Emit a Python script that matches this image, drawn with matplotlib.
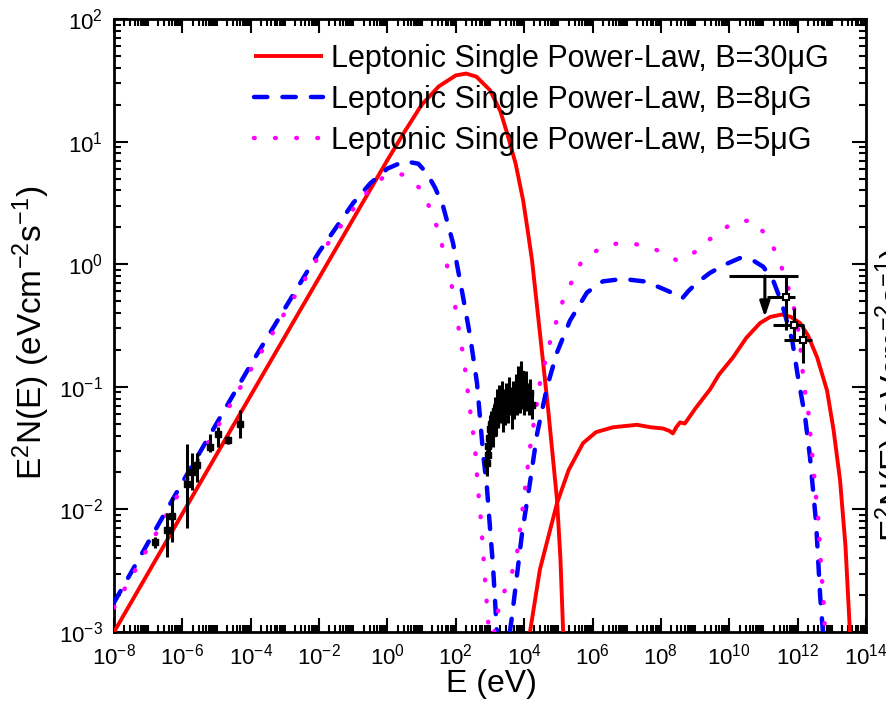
import numpy as np
import matplotlib
matplotlib.use("Agg")
import matplotlib.pyplot as plt
from matplotlib.ticker import FixedLocator, LogLocator, NullFormatter, LogFormatterSciNotation

plt.rcParams['font.family'] = ['Liberation Sans', 'DejaVu Sans']
plt.rcParams['mathtext.fontset'] = 'custom'
plt.rcParams['mathtext.rm'] = 'Liberation Sans'
plt.rcParams['mathtext.it'] = 'Liberation Sans:italic'
plt.rcParams['mathtext.default'] = 'regular'

# ---------------- model curves (log10 E [eV], log10 E^2N(E) [eV cm^-2 s^-1]) ----------------
red_syn_logE = [-8, -4, -1, 0, 0.5, 1.0, 1.5, 2.0, 2.3, 2.6, 3.0, 3.3, 3.5, 3.75, 3.97, 4.1, 4.23,
                4.46, 4.7, 4.96, 5.06, 5.14]
red_syn_logF = [-3.0, -1.07, 0.37, 0.85, 1.08, 1.30, 1.45, 1.54, 1.555, 1.53, 1.42, 1.25, 1.07, 0.82,
                0.52, 0.28, 0.03, -0.56, -1.18, -1.92, -2.4, -3.0]
red_ic_logE = [4.17, 4.46, 4.96, 5.3, 5.72, 6.1, 6.6, 7.3, 7.7, 8.06, 8.25, 8.35, 8.45, 8.56, 8.7, 9.0,
               9.44, 9.7, 10.11, 10.5, 10.9, 11.2, 11.54, 11.8, 12.07, 12.3, 12.57, 12.86, 13.05, 13.24,
               13.4, 13.53]
red_ic_logF = [-3.0, -2.49, -1.95, -1.68, -1.46, -1.37, -1.33, -1.31, -1.33, -1.34, -1.36, -1.38, -1.33,
               -1.29, -1.30, -1.18, -1.02, -0.90, -0.76, -0.60, -0.48, -0.43, -0.41, -0.43, -0.48, -0.58,
               -0.76, -1.03, -1.35, -1.76, -2.3, -3.0]

blue_syn_logE = [-8, -6, -4, -2, -1, -0.5, 0, 0.5, 0.9, 1.16, 1.4, 1.63, 1.92, 2.2, 2.42, 2.62, 2.8,
                 2.91, 3.0, 3.09, 3.2]
blue_syn_logF = [-2.76, -1.78, -0.82, 0.10, 0.50, 0.66, 0.78, 0.84, 0.82, 0.74, 0.62, 0.47, 0.17, -0.25,
                 -0.59, -0.97, -1.55, -1.82, -2.15, -2.47, -3.0]
blue_ic_logE = [3.58, 3.64, 3.94, 4.17, 4.38, 4.67, 4.96, 5.34, 5.84, 6.3, 6.89, 7.5, 7.97, 8.3, 8.62,
                8.8, 9.06, 9.44, 9.9, 10.31, 10.7, 10.99, 11.28, 11.54, 11.84, 12.01, 12.22, 12.36, 12.54,
                12.66, 12.74]
blue_ic_logF = [-3.0, -2.88, -2.19, -1.78, -1.38, -1.0, -0.72, -0.46, -0.23, -0.14, -0.12, -0.14, -0.19,
                -0.23, -0.28, -0.22, -0.15, -0.07, 0.0, 0.05, 0.03, -0.02, -0.13, -0.32, -0.62, -0.92,
                -1.25, -1.57, -2.11, -2.71, -3.0]

mag_syn_logE = [-8, -6, -4, -2, -1, -0.5, -0.16, 0.2, 0.46, 0.95, 1.24, 1.48, 1.65, 1.9, 2.12, 2.24,
                2.39, 2.56, 2.65, 2.71, 2.85, 2.94, 2.98]
mag_syn_logF = [-2.80, -1.82, -0.86, 0.07, 0.45, 0.62, 0.70, 0.74, 0.73, 0.62, 0.46, 0.28, 0.10, -0.2,
                -0.59, -0.78, -1.13, -1.49, -1.84, -2.0, -2.55, -2.90, -3.0]
mag_ic_logE = [3.12, 3.29, 3.5, 3.64, 3.79, 3.94, 4.17, 4.46, 4.76, 5.14, 5.69, 6.28, 6.89, 7.54, 8.12,
               8.47, 8.71, 9.0, 9.29, 9.58, 10.08, 10.69, 11.13, 11.43, 11.63, 11.84, 11.98, 12.07, 12.13,
               12.19, 12.30, 12.36, 12.42, 12.48, 12.54, 12.60, 12.68, 12.77, 12.80]
mag_ic_logF = [-3.0, -2.75, -2.62, -2.52, -2.36, -2.03, -1.50, -0.97, -0.63, -0.29, 0.03, 0.14, 0.18,
               0.15, 0.09, 0.03, 0.05, 0.10, 0.19, 0.22, 0.34, 0.36, 0.22, 0.06, -0.11, -0.29, -0.47,
               -0.64, -0.82, -1.0, -1.17, -1.35, -1.54, -1.71, -1.90, -2.07, -2.44, -2.80, -3.0]

# ---------------- observed data ----------------
radio_E = [1.6e-7, 3.5e-7, 5.0e-7, 1.4e-6, 1.9e-6, 2.7e-6, 6.5e-6, 1.1e-5, 2.2e-5, 4.9e-5]
radio_F = [0.0054, 0.0068, 0.0089, 0.016, 0.020, 0.023, 0.032, 0.041, 0.037, 0.050]
radio_lo = [0.0048, 0.0041, 0.0054, 0.0071, 0.0145, 0.0166, 0.0295, 0.0324, 0.034, 0.038]
radio_hi = [0.0060, 0.0093, 0.0126, 0.034, 0.029, 0.029, 0.041, 0.047, 0.040, 0.065]

xray_E = [8.0e2, 8.5e2, 9.0e2, 9.5e2, 1.0e3, 1.1e3, 1.2e3, 1.3e3, 1.4e3, 1.5e3, 1.6e3, 1.7e3, 1.8e3,
          2.0e3, 2.2e3, 2.4e3, 2.6e3, 2.8e3, 3.0e3, 3.3e3, 3.6e3, 4.0e3, 4.4e3, 4.8e3, 5.2e3, 5.7e3,
          6.2e3, 6.8e3, 7.5e3, 8.2e3, 9.0e3, 1.0e4, 1.1e4, 1.2e4, 1.35e4, 1.5e4, 1.7e4]
xray_F = [0.024, 0.028, 0.033, 0.038, 0.045, 0.050, 0.042, 0.056, 0.063, 0.052, 0.071, 0.060, 0.076,
          0.066, 0.083, 0.056, 0.071, 0.063, 0.079, 0.066, 0.089, 0.076, 0.063, 0.083, 0.071, 0.095,
          0.076, 0.105, 0.079, 0.126, 0.089, 0.076, 0.100, 0.083, 0.076, 0.089, 0.071]
xray_relerr = [0.28, 0.25, 0.25, 0.3, 0.3, 0.28, 0.3, 0.3, 0.32, 0.3, 0.35, 0.3, 0.35, 0.3, 0.35, 0.3,
               0.35, 0.3, 0.35, 0.3, 0.35, 0.3, 0.4, 0.35, 0.3, 0.35, 0.3, 0.4, 0.3, 0.3, 0.35, 0.3,
               0.35, 0.3, 0.3, 0.3, 0.3]

gamma_E = [4.6e11, 7.9e11, 1.45e12]
gamma_F = [0.54, 0.32, 0.24]
gamma_Elo = [1.26e11, 1.9e11, 4.0e11]
gamma_Ehi = [8.3e11, 1.55e12, 2.6e12]
gamma_Flo = [0.29, 0.24, 0.155]
gamma_Fhi = [0.79, 0.44, 0.32]

ul_E = [1.1e11]
ul_F = [0.80]
ul_Elo = [1.0e10]
ul_Ehi = [1.0e12]
ul_arrow_to = [0.37]

labels = ["Leptonic Single Power-Law, B=30\u03bcG",
          "Leptonic Single Power-Law, B=8\u03bcG",
          "Leptonic Single Power-Law, B=5\u03bcG"]

# ---------------- figure ----------------
fig = plt.figure(figsize=(8.87, 7.23), dpi=100)
ax = fig.add_axes([114 / 887, 1 - 632 / 723, (866 - 114) / 887, (632 - 19) / 723])

def pw(a):
    return np.power(10.0, np.asarray(a, dtype=float))

red_kw = dict(color='#ff0000', lw=2.8, solid_capstyle='butt', zorder=3)
blue_kw = dict(color='#0000ff', lw=3.2, linestyle=(0, (3.0, 3.4)), dash_capstyle='round', zorder=4)
mag_kw = dict(color='#ff00ff', lw=3.2, linestyle=(0, (0.15, 4.6)), dash_capstyle='round', zorder=4)

l1, = ax.plot(pw(red_syn_logE), pw(red_syn_logF), label=labels[0], **red_kw)
ax.plot(pw(red_ic_logE), pw(red_ic_logF), **red_kw)
l2, = ax.plot(pw(blue_syn_logE), pw(blue_syn_logF), label=labels[1], **blue_kw)
ax.plot(pw(blue_ic_logE), pw(blue_ic_logF), **blue_kw)
l3, = ax.plot(pw(mag_syn_logE), pw(mag_syn_logF), label=labels[2], **mag_kw)
ax.plot(pw(mag_ic_logE), pw(mag_ic_logF), **mag_kw)

eb_kw = dict(fmt='s', color='black', ms=4.5, elinewidth=2.2, capsize=0, zorder=5)
rF = np.array(radio_F)
ax.errorbar(radio_E, rF, yerr=[rF - np.array(radio_lo), np.array(radio_hi) - rF], **eb_kw)
xF = np.array(xray_F)
xe = np.array(xray_relerr)
ax.errorbar(xray_E, xF, yerr=[xF * xe / (1 + xe), xF * xe], **eb_kw)
gE = np.array(gamma_E); gF = np.array(gamma_F)
ax.errorbar(gE, gF, xerr=[gE - np.array(gamma_Elo), np.array(gamma_Ehi) - gE],
            yerr=[gF - np.array(gamma_Flo), np.array(gamma_Fhi) - gF],
            fmt='s', color='black', mfc='white', ms=5, mew=1.5, elinewidth=2.2, capsize=0, zorder=5)
uE = np.array(ul_E); uF = np.array(ul_F)
ax.errorbar(uE, uF, xerr=[uE - np.array(ul_Elo), np.array(ul_Ehi) - uE], fmt='none',
            ecolor='black', elinewidth=2.2, capsize=0, zorder=5)
for e, f, t in zip(ul_E, ul_F, ul_arrow_to):
    ax.annotate('', xy=(e, t), xytext=(e, f),
                arrowprops=dict(arrowstyle='-|>,head_length=0.9,head_width=0.3', color='black', lw=2.2,
                                shrinkA=0, shrinkB=0), zorder=6)

ax.set_xscale('log')
ax.set_yscale('log')
ax.set_xlim(1e-8, 1e14)
ax.set_ylim(1e-3, 1e2)

ax.xaxis.set_major_locator(FixedLocator([10.0 ** k for k in range(-8, 15, 2)]))
ax.xaxis.set_major_formatter(LogFormatterSciNotation())
ax.xaxis.set_minor_locator(LogLocator(base=10, subs=np.arange(1, 10), numticks=200))
ax.xaxis.set_minor_formatter(NullFormatter())
ax.yaxis.set_major_locator(FixedLocator([10.0 ** k for k in range(-3, 3)]))
ax.yaxis.set_major_formatter(LogFormatterSciNotation())
ax.yaxis.set_minor_locator(LogLocator(base=10, subs=np.arange(2, 10), numticks=200))
ax.yaxis.set_minor_formatter(NullFormatter())

ax.tick_params(which='both', direction='in', top=True, right=True, width=1.5, colors='black')
ax.tick_params(axis='x', labelsize=16)
ax.tick_params(axis='y', labelsize=16)
ax.tick_params(which='major', length=10, pad=8)
ax.tick_params(which='minor', length=5)
for s in ax.spines.values():
    s.set_linewidth(2.0)

fig.text(491 / 887, 1 - 684 / 723, 'E (eV)', ha='center', va='center', fontsize=23)
fig.text(31 / 887, 1 - 333 / 723, r'E$^2$N(E) (eVcm$^{-2}$s$^{-1}$)', ha='center', va='center',
         rotation=90, fontsize=24)
fig.text(874 / 887, 1 - 395 / 723, r'E$^2$N(E) (eVcm$^{-2}$s$^{-1}$)', ha='left', va='center',
         rotation=90, fontsize=24)

leg = ax.legend(handles=[l1, l2, l3], loc='upper left', bbox_to_anchor=(254 / 887, 1 - 44 / 723),
                bbox_transform=fig.transFigure, frameon=False, fontsize=22, handlelength=2.27,
                handletextpad=0.26, labelspacing=0.36, borderpad=0.0, borderaxespad=0.0)

fig.savefig('out.png', dpi=100)
